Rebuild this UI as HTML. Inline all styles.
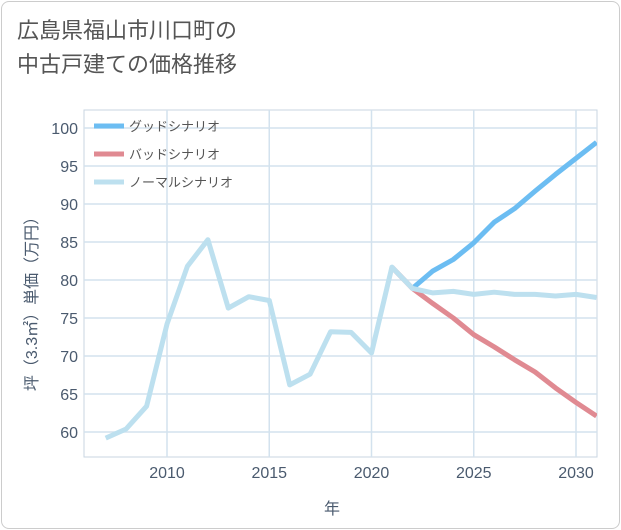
<!DOCTYPE html>
<html><head><meta charset="utf-8"><style>
body{margin:0;background:#fff;font-family:"Liberation Sans","Noto Sans CJK JP",sans-serif;}
#card{position:absolute;left:1px;top:1px;width:617px;height:526px;border:1px solid #ccc;border-radius:8px;background:#fff;}
#title{position:absolute;left:17px;top:14px;font-size:22px;line-height:34px;color:#555;}
</style></head><body>
<div id="card"></div>
<div id="title">広島県福山市川口町の<br>中古戸建ての価格推移</div>
<svg id="chart" width="621" height="530" style="position:absolute;left:0;top:0"></svg>
<script>
const years=[2007,2008,2009,2010,2011,2012,2013,2014,2015,2016,2017,2018,2019,2020,2021,2022,2023,2024,2025,2026,2027,2028,2029,2030,2031];
const normal=[59.2,60.4,63.4,74.2,81.8,85.3,76.3,77.8,77.3,66.2,67.6,73.2,73.1,70.4,81.7,78.9,78.3,78.5,78.1,78.4,78.1,78.1,77.9,78.1,77.7];
const goodYears=[2022,2023,2024,2025,2026,2027,2028,2029,2030,2031];
const good=[78.9,81.2,82.7,84.9,87.6,89.4,91.7,93.9,96.0,98.1];
const badYears=[2021,2022,2023,2024,2025,2026,2027,2028,2029,2030,2031];
const bad=[81.7,78.9,76.9,75.0,72.8,71.2,69.5,67.9,65.8,63.9,62.1];
const xTicks=[2010,2015,2020,2025,2030];
const yTicks=[60,65,70,75,80,85,90,95,100];
const L=84,R=597,T=110,B=457;
const x=v=>167+(v-2010)*(576-167)/20;
const y=v=>432-(v-60)*(432-128)/40;
const NS='http://www.w3.org/2000/svg';
const svg=document.getElementById('chart');
function mk(t,a){const e=document.createElementNS(NS,t);for(const k in a)e.setAttribute(k,a[k]);svg.appendChild(e);return e;}
let e=mk('rect',{x:L,y:T,width:R-L,height:B-T,fill:'#fff',stroke:'#c8d6e2'});


for(let yr=2007;yr<=2031;yr++){}
xTicks.forEach(t=>{
 e=mk('line',{x1:x(t),x2:x(t),y1:T,y2:B,stroke:'#d3e2ee','stroke-width':1.5});
 
 
 e=mk('text',{x:x(t),y:478,'text-anchor':'middle','font-size':16,fill:'#4a5a6e'});e.textContent=t;
 
 
});
yTicks.forEach(t=>{
 e=mk('line',{x1:L,x2:R,y1:y(t),y2:y(t),stroke:'#d3e2ee','stroke-width':1.5});
 
 
 e=mk('text',{x:78,y:y(t)+6,'text-anchor':'end','font-size':16,fill:'#4a5a6e'});e.textContent=t;
 
 
});
e=mk('text',{x:332,y:514,'text-anchor':'middle','font-size':16,fill:'#4a5a6e'});e.textContent='年';


e=mk('text',{x:0,y:0,'text-anchor':'middle','font-size':16,fill:'#4a5a6e',transform:'translate(37,300) rotate(-90)'});e.textContent='坪（3.3㎡）単価（万円）';


function line(xs,vs,c,n){
 const p=vs.map((v,i)=>x(xs[i]).toFixed(1)+','+y(v).toFixed(1)).join(' ');
 const el=mk('polyline',{points:p,fill:'none',stroke:c,'stroke-width':5,'stroke-linejoin':'round'});
 
 
}
svg.appendChild(document.createElementNS(NS,'g'));
const cp=document.createElementNS(NS,'clipPath');cp.id='c';
const cr=document.createElementNS(NS,'rect');cr.setAttribute('x',L);cr.setAttribute('y',T);cr.setAttribute('width',R-L);cr.setAttribute('height',B-T);cp.appendChild(cr);svg.appendChild(cp);
line(badYears,bad,'#e08a92','bad-scenario-line');
line(goodYears,good,'#6cbdf2','good-scenario-line');
line(years,normal,'#bde0ef','normal-scenario-line');
svg.querySelectorAll('polyline').forEach(p=>p.setAttribute('clip-path','url(#c)'));
const legend=[['グッドシナリオ','#6cbdf2'],['バッドシナリオ','#e08a92'],['ノーマルシナリオ','#bde0ef']];
legend.forEach((l,i)=>{
 const ly=126+i*28;
 e=mk('line',{x1:94,x2:124,y1:ly,y2:ly,stroke:l[1],'stroke-width':5});
 
 
 e=mk('text',{x:129,y:ly+5,'font-size':13,fill:'#555'});e.textContent=l[0];
 
 
});
</script>
</body></html>
